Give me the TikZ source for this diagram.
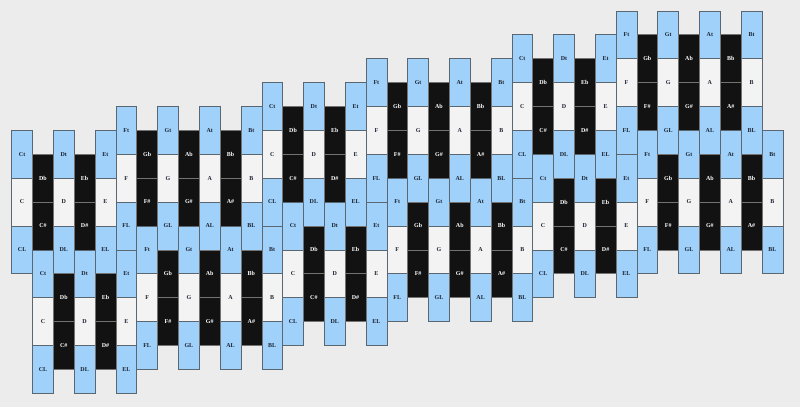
\documentclass[tikz,border=0pt]{standalone}
\usepackage{fontspec}
\setmainfont{Liberation Serif}
\definecolor{bg}{HTML}{ECECEC}
\definecolor{keyblue}{HTML}{9FD1FA}
\definecolor{keywhite}{HTML}{F3F3F3}
\definecolor{keyblack}{HTML}{121212}
\definecolor{edge}{HTML}{5A6670}
\definecolor{labeltext}{HTML}{1C2230}
\begin{document}
\begin{tikzpicture}[x=1pt,y=-1pt,
  cellbase/.style={draw=edge, line width=0.55pt, minimum width=20.84pt, minimum height=47.8pt,
    inner sep=0pt, font=\fontsize{6}{7}\selectfont\bfseries},
  bluecell/.style={cellbase, fill=keyblue, text=labeltext},
  whitecell/.style={cellbase, fill=keywhite, text=labeltext},
  blackcell/.style={cellbase, fill=keyblack, draw=black!55, text=white}]
\useasboundingbox (0,0) rectangle (800,407);
\fill[bg] (0,0) rectangle (800,407);
\foreach \r in {0,1}{
  \foreach \o in {0,1,2}{
    \foreach \i/\n/\g in {0/C/0,2/D/0,4/E/0,5/F/1,7/G/1,9/A/1,11/B/1}{
      \pgfmathsetmacro\xc{11.7+(12*\o+\i+\r)*20.84+10.42}
      \pgfmathsetmacro\tp{130.3-(2*\o+\g)*23.9+\r*119.5}
      \node[bluecell] (r\r-o\o-k\i-t) at (\xc,{\tp+23.9}) {\n t};
      \node[whitecell] (r\r-o\o-k\i-m) at (\xc,{\tp+71.7}) {\n};
      \node[bluecell] (r\r-o\o-k\i-l) at (\xc,{\tp+119.5}) {\n L};
    }
    \foreach \i/\n/\m/\g in {1/Db/C\#/0,3/Eb/D\#/0,6/Gb/F\#/1,8/Ab/G\#/1,10/Bb/A\#/1}{
      \pgfmathsetmacro\xc{11.7+(12*\o+\i+\r)*20.84+10.42}
      \pgfmathsetmacro\tp{130.3-(2*\o+\g)*23.9+\r*119.5}
      \node[blackcell] (r\r-o\o-k\i-t) at (\xc,{\tp+47.8}) {\n};
      \node[blackcell] (r\r-o\o-k\i-l) at (\xc,{\tp+95.6}) {\m};
    }
  }
}
\end{tikzpicture}
\end{document}
